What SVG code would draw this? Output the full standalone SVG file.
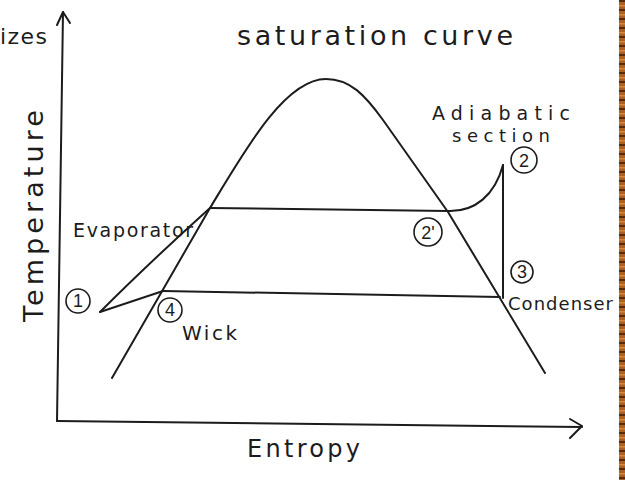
<svg xmlns="http://www.w3.org/2000/svg" width="625" height="480" viewBox="0 0 625 480">
<defs>
<style>
.ln{fill:none;stroke:#1c1c1c;stroke-width:2;stroke-linecap:round;stroke-linejoin:round}
.cir{fill:none;stroke:#1c1c1c;stroke-width:1.6}
.t{font-family:"DejaVu Sans","Liberation Sans",sans-serif;fill:#1c1c1c}
.num{font-family:"Liberation Sans",sans-serif;fill:#1c1c1c;font-size:18px;text-anchor:middle}
</style>
<pattern id="wood" width="6" height="9" patternUnits="userSpaceOnUse">
<rect width="6" height="9" fill="#b0601e"/>
<rect y="0" width="6" height="2" fill="#5a2a0c"/>
<rect y="5" width="6" height="1.5" fill="#d48a3a"/>
</pattern>
</defs>
<rect width="625" height="480" fill="#ffffff"/>
<rect x="619" y="0" width="6" height="480" fill="url(#wood)"/>

<g id="axes">
<path class="ln" d="M57,421 L63,12"/>
<path class="ln" d="M57,25 L63,12 L70,23"/>
<path class="ln" d="M57,421 L582,427"/>
<path class="ln" d="M570,419 L582,426 L570,438"/>
<text class="t" font-size="27" transform="translate(43,322) rotate(-90)" textLength="212" lengthAdjust="spacing">Temperature</text>
<text class="t" font-size="24" x="247" y="457" textLength="113" lengthAdjust="spacing">Entropy</text>
<text class="t" font-size="22" x="0" y="44" textLength="47" lengthAdjust="spacing">izes</text>
</g>

<g id="saturation-curve">
<path class="ln" d="M112,378 L210,208 C245,150 285,79 326,79 C350,79 365,95 383,120 L448,212 L545,373"/>
<text class="t" font-size="27" x="237" y="45" textLength="276" lengthAdjust="spacing">saturation curve</text>
</g>

<g id="connectors">
<path class="ln" d="M210,208 L448,211 C475,212 495,195 503,165"/>
<path class="ln" d="M503,165 L503,298"/>
<path class="ln" d="M163,291 L500,297"/>
<path class="ln" d="M100,312 Q150,262 210,208"/>
<path class="ln" d="M100,312 L163,291"/>
</g>

<g id="point-1">
<circle class="cir" cx="78" cy="301" r="12"/>
<text class="num" x="78" y="307">1</text>
</g>
<g id="point-4">
<circle class="cir" cx="170" cy="310" r="12"/>
<text class="num" x="170" y="316">4</text>
<text class="t" font-size="20" x="182" y="340" textLength="55" lengthAdjust="spacing">Wick</text>
</g>
<g id="evaporator">
<text class="t" font-size="19" x="73" y="237" textLength="120" lengthAdjust="spacing">Evaporator</text>
</g>
<g id="point-2prime">
<circle class="cir" cx="428" cy="232" r="14"/>
<text class="num" x="428" y="239" font-size="19">2'</text>
</g>
<g id="point-2">
<circle class="cir" cx="524" cy="160" r="13"/>
<text class="num" x="524" y="167" font-size="19">2</text>
<text class="t" font-size="19" x="432" y="120" textLength="138" lengthAdjust="spacing">Adiabatic</text>
<text class="t" font-size="18" x="452" y="142" textLength="98" lengthAdjust="spacing">section</text>
</g>
<g id="point-3">
<circle class="cir" cx="522" cy="272" r="11"/>
<text class="num" x="522" y="278">3</text>
<text class="t" font-size="18" x="508" y="310" textLength="105" lengthAdjust="spacing">Condenser</text>
</g>
</svg>
